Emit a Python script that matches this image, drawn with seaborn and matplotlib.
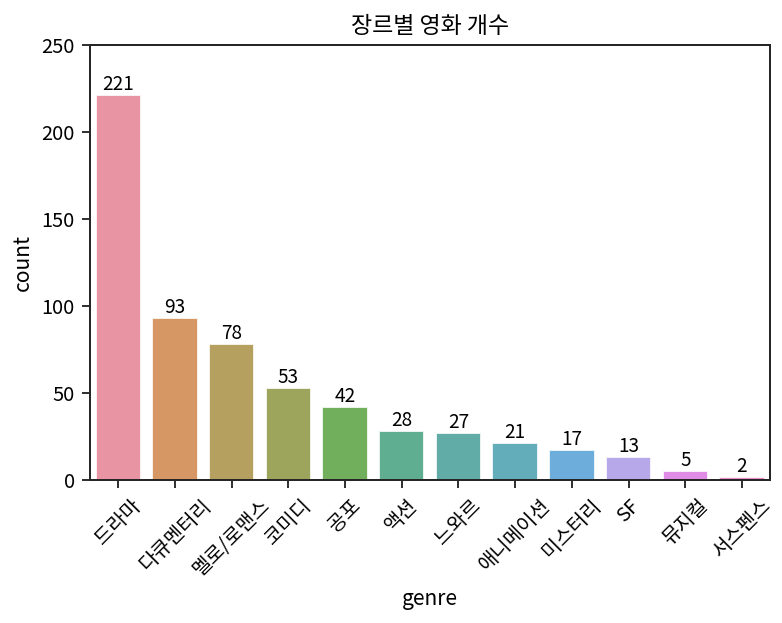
import matplotlib
matplotlib.use("Agg")
import matplotlib.pyplot as plt
import pandas as pd
import seaborn as sns

sns.set_theme(style="ticks", rc={"axes.linewidth": 1.0, "xtick.major.width": 1.0,
                                 "ytick.major.width": 1.0, "xtick.major.size": 4,
                                 "ytick.major.size": 4, "text.color": "black",
                                 "axes.labelcolor": "black", "xtick.color": "#333333",
                                 "ytick.color": "#333333", "xtick.labelcolor": "black",
                                 "ytick.labelcolor": "black"})
plt.rcParams["font.family"] = ["Noto Sans CJK KR", "DejaVu Sans"]
plt.rcParams["axes.unicode_minus"] = False

genres = ["드라마", "다큐멘터리", "멜로/로맨스", "코미디", "공포", "액션",
          "느와르", "애니메이션", "미스터리", "SF", "뮤지컬", "서스펜스"]
counts = [221, 93, 78, 53, 42, 28, 27, 21, 17, 13, 5, 2]

df = pd.DataFrame({"genre": genres, "count": counts})

fig = plt.figure(figsize=(782 / 144, 623 / 144), dpi=144)
ax = fig.add_axes([0.115, 0.2295, 0.87, 0.6985])
sns.barplot(data=df, x="genre", y="count", hue="genre", palette="husl",
            legend=False, alpha=0.85, ax=ax)
for c in ax.containers:
    ax.bar_label(c, fontsize=9.5, padding=0, color="black")

ax.set_ylim(0, 250)
ax.set_title("장르별 영화 개수", fontsize=11.5, color="black")
ax.set_xlabel("genre", fontsize=10.5)
ax.set_ylabel("count", fontsize=10.5)
ax.tick_params(axis="both", labelsize=10)
plt.setp(ax.get_xticklabels(), rotation=45)

fig.savefig("out.png", dpi=144)
